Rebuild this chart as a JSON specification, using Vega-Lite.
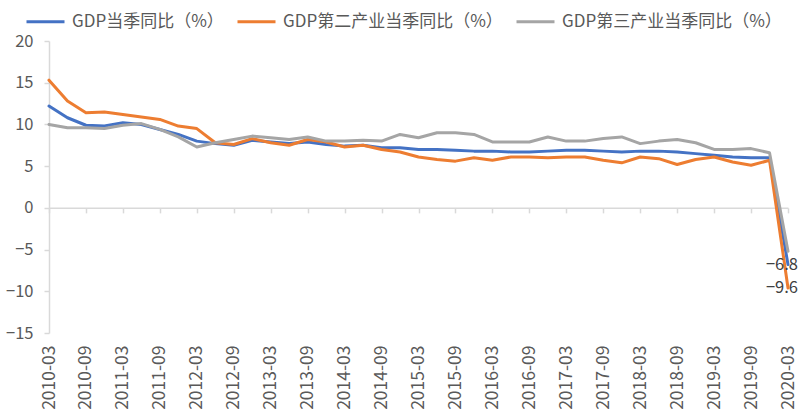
{
  "$schema": "https://vega.github.io/schema/vega-lite/v6.json",
  "width": 739,
  "height": 292,
  "autosize": {"type": "none"},
  "padding": {"left": 49, "top": 41, "right": 17, "bottom": 82},
  "background": "white",
  "config": {"view": {"stroke": null}, "font": "Noto Sans CJK SC"},
  "data": {"values": [
    {"date": "2010-03", "GDP当季同比（%）": 12.2, "GDP第二产业当季同比（%）": 15.3, "GDP第三产业当季同比（%）": 10.0},
    {"date": "2010-06", "GDP当季同比（%）": 10.8, "GDP第二产业当季同比（%）": 12.8, "GDP第三产业当季同比（%）": 9.6},
    {"date": "2010-09", "GDP当季同比（%）": 9.9, "GDP第二产业当季同比（%）": 11.4, "GDP第三产业当季同比（%）": 9.6},
    {"date": "2010-12", "GDP当季同比（%）": 9.8, "GDP第二产业当季同比（%）": 11.5, "GDP第三产业当季同比（%）": 9.5},
    {"date": "2011-03", "GDP当季同比（%）": 10.2, "GDP第二产业当季同比（%）": 11.2, "GDP第三产业当季同比（%）": 9.9},
    {"date": "2011-06", "GDP当季同比（%）": 10.0, "GDP第二产业当季同比（%）": 10.9, "GDP第三产业当季同比（%）": 10.1},
    {"date": "2011-09", "GDP当季同比（%）": 9.4, "GDP第二产业当季同比（%）": 10.6, "GDP第三产业当季同比（%）": 9.4},
    {"date": "2011-12", "GDP当季同比（%）": 8.8, "GDP第二产业当季同比（%）": 9.8, "GDP第三产业当季同比（%）": 8.5},
    {"date": "2012-03", "GDP当季同比（%）": 8.0, "GDP第二产业当季同比（%）": 9.5, "GDP第三产业当季同比（%）": 7.3},
    {"date": "2012-06", "GDP当季同比（%）": 7.7, "GDP第二产业当季同比（%）": 7.8, "GDP第三产业当季同比（%）": 7.8},
    {"date": "2012-09", "GDP当季同比（%）": 7.5, "GDP第二产业当季同比（%）": 7.6, "GDP第三产业当季同比（%）": 8.2},
    {"date": "2012-12", "GDP当季同比（%）": 8.1, "GDP第二产业当季同比（%）": 8.3, "GDP第三产业当季同比（%）": 8.6},
    {"date": "2013-03", "GDP当季同比（%）": 7.9, "GDP第二产业当季同比（%）": 7.8, "GDP第三产业当季同比（%）": 8.4},
    {"date": "2013-06", "GDP当季同比（%）": 7.7, "GDP第二产业当季同比（%）": 7.5, "GDP第三产业当季同比（%）": 8.2},
    {"date": "2013-09", "GDP当季同比（%）": 7.9, "GDP第二产业当季同比（%）": 8.2, "GDP第三产业当季同比（%）": 8.5},
    {"date": "2013-12", "GDP当季同比（%）": 7.6, "GDP第二产业当季同比（%）": 7.9, "GDP第三产业当季同比（%）": 8.0},
    {"date": "2014-03", "GDP当季同比（%）": 7.4, "GDP第二产业当季同比（%）": 7.3, "GDP第三产业当季同比（%）": 8.0},
    {"date": "2014-06", "GDP当季同比（%）": 7.5, "GDP第二产业当季同比（%）": 7.5, "GDP第三产业当季同比（%）": 8.1},
    {"date": "2014-09", "GDP当季同比（%）": 7.2, "GDP第二产业当季同比（%）": 7.0, "GDP第三产业当季同比（%）": 8.0},
    {"date": "2014-12", "GDP当季同比（%）": 7.2, "GDP第二产业当季同比（%）": 6.7, "GDP第三产业当季同比（%）": 8.8},
    {"date": "2015-03", "GDP当季同比（%）": 7.0, "GDP第二产业当季同比（%）": 6.1, "GDP第三产业当季同比（%）": 8.4},
    {"date": "2015-06", "GDP当季同比（%）": 7.0, "GDP第二产业当季同比（%）": 5.8, "GDP第三产业当季同比（%）": 9.0},
    {"date": "2015-09", "GDP当季同比（%）": 6.9, "GDP第二产业当季同比（%）": 5.6, "GDP第三产业当季同比（%）": 9.0},
    {"date": "2015-12", "GDP当季同比（%）": 6.8, "GDP第二产业当季同比（%）": 6.0, "GDP第三产业当季同比（%）": 8.8},
    {"date": "2016-03", "GDP当季同比（%）": 6.8, "GDP第二产业当季同比（%）": 5.7, "GDP第三产业当季同比（%）": 7.9},
    {"date": "2016-06", "GDP当季同比（%）": 6.7, "GDP第二产业当季同比（%）": 6.1, "GDP第三产业当季同比（%）": 7.9},
    {"date": "2016-09", "GDP当季同比（%）": 6.7, "GDP第二产业当季同比（%）": 6.1, "GDP第三产业当季同比（%）": 7.9},
    {"date": "2016-12", "GDP当季同比（%）": 6.8, "GDP第二产业当季同比（%）": 6.0, "GDP第三产业当季同比（%）": 8.5},
    {"date": "2017-03", "GDP当季同比（%）": 6.9, "GDP第二产业当季同比（%）": 6.1, "GDP第三产业当季同比（%）": 8.0},
    {"date": "2017-06", "GDP当季同比（%）": 6.9, "GDP第二产业当季同比（%）": 6.1, "GDP第三产业当季同比（%）": 8.0},
    {"date": "2017-09", "GDP当季同比（%）": 6.8, "GDP第二产业当季同比（%）": 5.7, "GDP第三产业当季同比（%）": 8.3},
    {"date": "2017-12", "GDP当季同比（%）": 6.7, "GDP第二产业当季同比（%）": 5.4, "GDP第三产业当季同比（%）": 8.5},
    {"date": "2018-03", "GDP当季同比（%）": 6.8, "GDP第二产业当季同比（%）": 6.1, "GDP第三产业当季同比（%）": 7.7},
    {"date": "2018-06", "GDP当季同比（%）": 6.8, "GDP第二产业当季同比（%）": 5.9, "GDP第三产业当季同比（%）": 8.0},
    {"date": "2018-09", "GDP当季同比（%）": 6.7, "GDP第二产业当季同比（%）": 5.2, "GDP第三产业当季同比（%）": 8.2},
    {"date": "2018-12", "GDP当季同比（%）": 6.5, "GDP第二产业当季同比（%）": 5.8, "GDP第三产业当季同比（%）": 7.8},
    {"date": "2019-03", "GDP当季同比（%）": 6.3, "GDP第二产业当季同比（%）": 6.1, "GDP第三产业当季同比（%）": 7.0},
    {"date": "2019-06", "GDP当季同比（%）": 6.1, "GDP第二产业当季同比（%）": 5.5, "GDP第三产业当季同比（%）": 7.0},
    {"date": "2019-09", "GDP当季同比（%）": 6.0, "GDP第二产业当季同比（%）": 5.1, "GDP第三产业当季同比（%）": 7.1},
    {"date": "2019-12", "GDP当季同比（%）": 6.0, "GDP第二产业当季同比（%）": 5.7, "GDP第三产业当季同比（%）": 6.6},
    {"date": "2020-03", "GDP当季同比（%）": -6.8, "GDP第二产业当季同比（%）": -9.6, "GDP第三产业当季同比（%）": -5.2}
  ]},
  "transform": [
    {"fold": ["GDP当季同比（%）", "GDP第二产业当季同比（%）", "GDP第三产业当季同比（%）"], "as": ["series", "value"]}
  ],
  "layer": [
    {
      "mark": {"type": "line", "strokeWidth": 3, "strokeJoin": "round", "strokeCap": "round"},
      "encoding": {
        "x": {
          "field": "date", "type": "ordinal", "sort": null,
          "scale": {"type": "point", "padding": 0},
          "axis": {
            "orient": "bottom", "offset": -125.14, "title": null,
            "labels": false, "domain": true, "domainColor": "#D9D9D9", "domainWidth": 1.5,
            "ticks": true, "tickColor": "#D9D9D9", "tickSize": 5, "tickWidth": 1.5, "grid": false,
            "values": ["2010-03","2010-09","2011-03","2011-09","2012-03","2012-09","2013-03","2013-09","2014-03","2014-09","2015-03","2015-09","2016-03","2016-09","2017-03","2017-09","2018-03","2018-09","2019-03","2019-09","2020-03"]
          }
        },
        "y": {
          "field": "value", "type": "quantitative",
          "scale": {"domain": [-15, 20], "nice": false, "zero": false},
          "axis": {
            "title": null, "grid": false, "values": [-15, -10, -5, 0, 5, 10, 15, 20],
            "domainColor": "#D9D9D9", "domainWidth": 1.5, "tickColor": "#D9D9D9", "tickSize": 5, "tickWidth": 1.5,
            "labelFontSize": 16.5, "labelColor": "#595959", "labelPadding": 11
          }
        },
        "color": {
          "field": "series", "type": "nominal",
          "scale": {"domain": ["GDP当季同比（%）", "GDP第二产业当季同比（%）", "GDP第三产业当季同比（%）"], "range": ["#4472C4", "#ED7D31", "#A5A5A5"]},
          "legend": {
            "title": null, "orient": "none", "direction": "horizontal", "legendX": -24, "legendY": -40,
            "padding": 0, "symbolType": "stroke", "symbolSize": 1444, "symbolStrokeWidth": 3,
            "labelFontSize": 17, "labelColor": "#595959", "labelOffset": 6, "columnPadding": 7, "labelLimit": 400
          }
        }
      }
    },
    {
      "transform": [{"filter": "datum.date == '2020-03' && datum.series != 'GDP第三产业当季同比（%）'"}],
      "mark": {"type": "text", "align": "right", "baseline": "middle", "dx": 10, "fontSize": 16.5, "color": "#404040"},
      "encoding": {
        "x": {
          "field": "date", "type": "ordinal", "sort": null,
          "axis": {
            "orient": "bottom", "title": null, "domain": false, "ticks": false, "grid": false,
            "labelAngle": -90, "labelFontSize": 17.5, "labelColor": "#595959", "labelPadding": 12,
            "values": ["2010-03","2010-09","2011-03","2011-09","2012-03","2012-09","2013-03","2013-09","2014-03","2014-09","2015-03","2015-09","2016-03","2016-09","2017-03","2017-09","2018-03","2018-09","2019-03","2019-09","2020-03"]
          }
        },
        "y": {"field": "value", "type": "quantitative"},
        "text": {"field": "value", "type": "quantitative", "format": ".1f"}
      }
    }
  ],
  "resolve": {"axis": {"x": "independent"}}
}
